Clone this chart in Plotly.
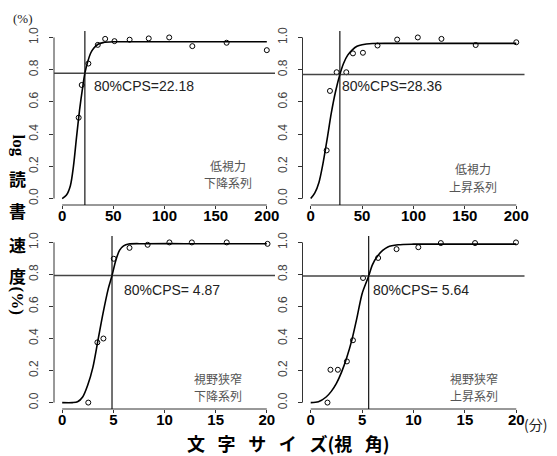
import plotly.graph_objects as go

# ---------------- data ----------------
# panel 1: 低視力 下降系列
size1 = [16.1, 19.1, 25.6, 34.8, 42.0, 51.1, 65.9, 84.6, 104.6, 127.2, 160.7, 200.0]
rate1 = [0.502, 0.705, 0.838, 0.954, 0.991, 0.977, 0.986, 0.994, 1.0, 0.946, 0.967, 0.921]
fitx1 = [0, 4, 8, 11, 14, 17, 20, 22.18, 25, 28, 31, 35, 40, 50, 70, 120, 200]
fity1 = [0.0, 0.02, 0.08, 0.20, 0.38, 0.55, 0.69, 0.778, 0.85, 0.905, 0.935, 0.958, 0.968, 0.973, 0.973, 0.973, 0.973]
cps1, h1 = 22.18, 0.778

# panel 2: 低視力 上昇系列
size2 = [15.5, 18.7, 25.2, 34.6, 41.1, 50.8, 65.0, 84.1, 104.2, 127.2, 160.5, 200.0]
rate2 = [0.299, 0.668, 0.784, 0.784, 0.901, 0.905, 0.950, 0.987, 1.0, 0.991, 0.953, 0.970]
fitx2 = [0, 4, 8, 12, 16, 20, 24, 28.36, 32, 36, 40, 45, 50, 60, 80, 120, 200]
fity2 = [0.0, 0.035, 0.10, 0.22, 0.37, 0.53, 0.66, 0.77, 0.84, 0.89, 0.92, 0.945, 0.955, 0.962, 0.963, 0.963, 0.963]
cps2, h2 = 28.36, 0.770

# panel 3: 視野狭窄 下降系列
size3 = [2.55, 3.44, 4.03, 5.04, 6.58, 8.35, 10.48, 12.67, 16.08, 20.07]
rate3 = [0.0, 0.376, 0.40, 0.898, 0.966, 0.985, 1.0, 1.0, 1.0, 0.991]
fitx3 = [0, 1.0, 1.5, 2.0, 2.5, 3.0, 3.5, 4.0, 4.5, 4.87, 5.25, 5.6, 6.0, 6.5, 8, 12, 20]
fity3 = [0.0, 0.0, 0.005, 0.035, 0.11, 0.22, 0.39, 0.56, 0.71, 0.793, 0.89, 0.95, 0.978, 0.99, 0.992, 0.992, 0.992]
cps3, h3 = 4.87, 0.793

# panel 4: 視野狭窄 上昇系列
size4 = [1.63, 1.92, 2.64, 3.52, 4.11, 5.09, 6.56, 8.35, 10.47, 12.66, 15.99, 19.97]
rate4 = [0.0, 0.205, 0.205, 0.257, 0.389, 0.778, 0.903, 0.958, 0.970, 0.996, 0.996, 1.0]
fitx4 = [0, 0.75, 1.5, 2.0, 2.5, 3.0, 3.5, 4.0, 4.5, 5.0, 5.64, 6.0, 6.5, 7.0, 7.5, 8.5, 10, 14, 20]
fity4 = [0.0, 0.005, 0.035, 0.07, 0.12, 0.19, 0.28, 0.39, 0.53, 0.68, 0.79, 0.86, 0.915, 0.95, 0.972, 0.985, 0.989, 0.989, 0.989]
cps4, h4 = 5.64, 0.790

panel_line1 = ["低視力", "低視力", "視野狭窄", "視野狭窄"]
panel_line2 = ["下降系列", "上昇系列", "下降系列", "上昇系列"]
cps_texts = ["80%CPS=22.18", "80%CPS=28.36", "80%CPS= 4.87", "80%CPS= 5.64"]

xticks_big = [0, 50, 100, 150, 200]
xticks_small = [0, 5, 10, 15, 20]
yticks = [0.0, 0.2, 0.4, 0.6, 0.8, 1.0]
ytick_text = ["0.0", "0.2", "0.4", "0.6", "0.8", "1.0"]

# ---------------- layout geometry ----------------
W, H = 557, 456
xdom_left = [54 / W, 275 / W]
xdom_right = [302.5 / W, 524.5 / W]
ydom_top = [1 - 205 / H, 1 - 31 / H]
ydom_bot = [1 - 409 / H, 1 - 236 / H]

panels = [
    dict(sx=size1, sy=rate1, fx=fitx1, fy=fity1, cps=cps1, h=h1, xt=xticks_big, xr=[-8, 208],
         xd=xdom_left, yd=ydom_top, tx=28.9, ty=0.70, lx=161.6, ly1=0.207, ly2=0.098, so=-6),
    dict(sx=size2, sy=rate2, fx=fitx2, fy=fity2, cps=cps2, h=h2, xt=xticks_big, xr=[-8, 208],
         xd=xdom_right, yd=ydom_top, tx=28.4, ty=0.70, lx=157.9, ly1=0.186, ly2=0.077, so=-6),
    dict(sx=size3, sy=rate3, fx=fitx3, fy=fity3, cps=cps3, h=h3, xt=xticks_small, xr=[-0.8, 20.8],
         xd=xdom_left, yd=ydom_bot, tx=5.83, ty=0.70, lx=15.2, ly1=0.152, ly2=0.044, so=-6),
    dict(sx=size4, sy=rate4, fx=fitx4, fy=fity4, cps=cps4, h=h4, xt=xticks_small, xr=[-0.8, 20.8],
         xd=xdom_right, yd=ydom_bot, tx=5.9, ty=0.70, lx=15.9, ly1=0.152, ly2=0.044, so=-6),
]

fig = go.Figure()
shapes = []
annotations = []
layout_axes = {}

for i, p in enumerate(panels, start=1):
    sfx = "" if i == 1 else str(i)
    xa, ya = "x" + sfx, "y" + sfx
    fig.add_trace(go.Scatter(x=p["fx"], y=p["fy"], mode="lines", xaxis=xa, yaxis=ya,
                             line=dict(color="black", width=1.6, shape="spline", smoothing=0.8),
                             hoverinfo="skip"))
    fig.add_trace(go.Scatter(x=p["sx"], y=p["sy"], mode="markers", xaxis=xa, yaxis=ya,
                             marker=dict(symbol="circle-open", size=5, color="black",
                                         line=dict(width=1, color="black")),
                             cliponaxis=False))
    layout_axes["xaxis" + sfx] = dict(
        domain=p["xd"], anchor=ya, range=p["xr"], tickmode="array", tickvals=p["xt"],
        ticktext=[str(v) for v in p["xt"]], automargin=False,
        ticks="outside", ticklen=3, tickcolor="#333", tickwidth=1,
        showline=False, showgrid=False, zeroline=False,
        tickfont=dict(family="Liberation Sans", size=15, color="black", weight="bold"),
        ticklabelstandoff=p["so"],
    )
    layout_axes["yaxis" + sfx] = dict(
        domain=p["yd"], anchor=xa, range=[-0.04, 1.04], tickmode="array", tickvals=yticks,
        ticktext=ytick_text, tickangle=-90, automargin=False,
        ticks="outside", ticklen=4, tickcolor="#333", tickwidth=1,
        showline=False, showgrid=False, zeroline=False,
        tickfont=dict(family="Liberation Sans", size=12, color="#444"),
        ticklabelstandoff=6,
    )
    # R-style axis lines (only between first and last tick)
    shapes.append(dict(type="line", xref=xa, yref=ya + " domain", x0=p["xt"][0], x1=p["xt"][-1],
                       y0=0, y1=0, line=dict(color="#333", width=1)))
    shapes.append(dict(type="line", xref=xa + " domain", yref=ya, x0=0, x1=0,
                       y0=yticks[0], y1=yticks[-1], line=dict(color="#333", width=1)))
    # reference lines
    shapes.append(dict(type="line", xref=xa + " domain", yref=ya, x0=0, x1=1, y0=p["h"], y1=p["h"],
                       line=dict(color="#444", width=1.5)))
    shapes.append(dict(type="line", xref=xa, yref=ya + " domain", x0=p["cps"], x1=p["cps"], y0=0, y1=1,
                       line=dict(color="black", width=1.1)))
    annotations.append(dict(xref=xa, yref=ya, x=p["tx"], y=p["ty"], text=cps_texts[i - 1],
                            showarrow=False, xanchor="left", yanchor="middle",
                            font=dict(family="Liberation Sans", size=14, color="#222")))
    for txt, yy in ((panel_line1[i - 1], p["ly1"]), (panel_line2[i - 1], p["ly2"])):
        annotations.append(dict(xref=xa, yref=ya, x=p["lx"], y=yy, text=txt, borderpad=0,
                                showarrow=False, xanchor="center", yanchor="middle",
                                font=dict(family="Noto Sans CJK JP", size=12, color="#555")))

# outer texts
annotations.append(dict(xref="paper", yref="paper", x=23 / W, y=1 - 18 / H, text="(%)", showarrow=False,
                        xanchor="center", yanchor="middle",
                        font=dict(family="Liberation Serif", size=13, color="#222")))
annotations.append(dict(xref="paper", yref="paper", x=535 / W, y=1 - 424 / H, text="(分)", showarrow=False,
                        xanchor="center", yanchor="middle",
                        font=dict(family="Noto Sans CJK JP", size=14, color="#222")))
sp = "\u2002\u2009"
annotations.append(dict(xref="paper", yref="paper", x=289 / W, y=1 - 443 / H, borderpad=0,
                        text=f"文{sp}字{sp}サ{sp}イ{sp}ズ(視{sp}角)", showarrow=False,
                        xanchor="center", yanchor="middle",
                        font=dict(family="Noto Sans CJK JP", size=18, color="black", weight="bold")))
# vertical y title
ytitle = [("log", 145, 90), ("読", 178, 0), ("書", 210, 0), ("速", 245, 0), ("度", 275, 0), ("(%)", 300, 90)]
for txt, yy, ang in ytitle:
    annotations.append(dict(xref="paper", yref="paper", x=17.5 / W, y=1 - yy / H, text=txt,
                            showarrow=False, textangle=ang, xanchor="center", yanchor="middle",
                            font=dict(family="Noto Sans CJK JP" if ang == 0 else "Liberation Serif",
                                      size=17, color="black", weight="bold")))

fig.update_layout(
    width=W, height=H, margin=dict(l=0, r=0, t=0, b=0, autoexpand=False),
    paper_bgcolor="white", plot_bgcolor="white", showlegend=False,
    shapes=shapes, annotations=annotations, **layout_axes,
)

fig.write_html("out.html", config={"displayModeBar": False},
               post_script="document.body.style.margin='0';document.body.style.overflow='hidden';")
